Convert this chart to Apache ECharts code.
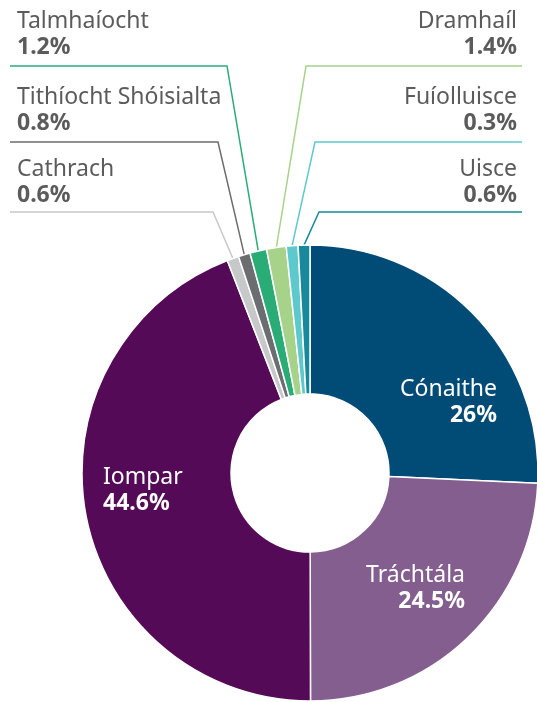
<!DOCTYPE html>
<html>
<head>
<meta charset="utf-8">
<script src="https://cdn.jsdelivr.net/npm/echarts@6/dist/echarts.min.js"></script>
<style>
  html, body { margin: 0; padding: 0; background: #fff; }
  #chart { width: 537px; height: 702px; }
</style>
</head>
<body>
<div id="chart"></div>
<script>
// sectors, clockwise from 12 o'clock
var names = ["Cónaithe", "Tráchtála", "Iompar", "Cathrach", "Tithíocht Shóisialta", "Talmhaíocht", "Dramhaíl", "Fuíolluisce", "Uisce"];
var values = [26, 24.5, 44.6, 0.6, 0.8, 1.2, 1.4, 0.3, 0.6];
var colors = ["#014c76", "#845e8e", "#550a57", "#c7c8ca", "#6c6d70", "#2aac77", "#a6d28a", "#5dc9cc", "#17899a"];

var FONT = "Noto Sans";
var FS = 23;
var GREY = "#5b5b5b";

// where each label sits (px), and the elbow/end of its leader line
var labelPos = [
  { x: 497, y: 376, align: "right" },
  { x: 465, y: 562, align: "right" },
  { x: 103, y: 464, align: "left" },
  { x: 17, y: 156, align: "left", line: [[213, 212], [10, 212]] },
  { x: 17, y: 84, align: "left", line: [[218, 142], [10, 142]] },
  { x: 17, y: 8, align: "left", line: [[227, 66], [10, 66]] },
  { x: 517, y: 8, align: "right", line: [[306, 66], [522, 66]] },
  { x: 517, y: 84, align: "right", line: [[315, 142], [522, 142]] },
  { x: 517, y: 156, align: "right", line: [[319, 212], [522, 212]] }
];

var data = names.map(function (n, i) {
  var inside = i < 3;
  var c = inside ? "#fff" : GREY;
  return {
    name: n,
    value: values[i],
    itemStyle: { color: colors[i] },
    label: {
      color: c,
      align: labelPos[i].align,
      rich: {
        n: { fontFamily: FONT, fontSize: FS, lineHeight: 26, color: c, align: labelPos[i].align },
        v: { fontFamily: FONT, fontSize: FS, lineHeight: 26, fontWeight: "bold", color: c, align: labelPos[i].align }
      }
    },
    labelLine: { show: !inside, lineStyle: { color: colors[i], width: 1.5 } }
  };
});

var chart = echarts.init(document.getElementById("chart"), null, { renderer: "canvas" });
chart.setOption({
  animation: false,
  series: [{
    type: "pie",
    center: [310, 473],
    radius: [79, 228],
    startAngle: 90,
    clockwise: true,
    minAngle: 3,
    avoidLabelOverlap: false,
    itemStyle: { borderColor: "#fff", borderWidth: 1.5 },
    label: {
      show: true,
      position: "outside",
      formatter: function (p) {
        return "{n|" + p.name + "}\n{v|" + p.value + "%}";
      }
    },
    labelLine: { show: true, length: 10, length2: 10 },
    labelLayout: function (params) {
      var lp = labelPos[params.dataIndex];
      var res = { x: lp.x, y: lp.y, align: lp.align, verticalAlign: "top", hideOverlap: false };
      if (lp.line && params.labelLinePoints) {
        var start = params.labelLinePoints[0];
        res.labelLinePoints = [start, lp.line[0], lp.line[1]];
      }
      return res;
    },
    data: data
  }]
});
</script>
</body>
</html>
